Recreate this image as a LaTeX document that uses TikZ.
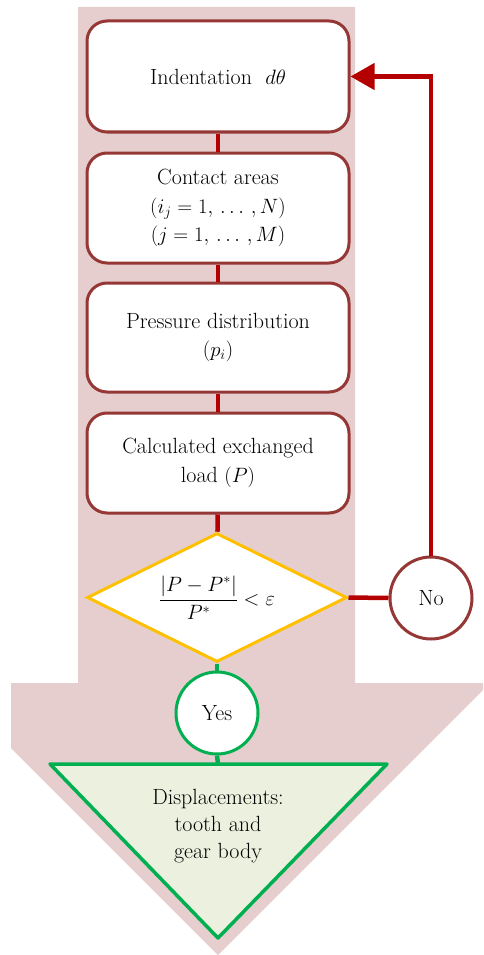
\documentclass[tikz,border=0pt]{standalone}
\usetikzlibrary{shapes.geometric,arrows.meta,calc}
\definecolor{bgpink}{RGB}{230,206,207}
\definecolor{boxred}{RGB}{149,55,53}
\definecolor{conred}{RGB}{180,0,0}
\definecolor{goldy}{RGB}{255,192,0}
\definecolor{greeny}{RGB}{0,176,80}
\definecolor{paleg}{RGB}{235,241,222}
\begin{document}
\begin{tikzpicture}[x=1pt,y=-1pt,
  stepbox/.style={rectangle, rounded corners=20pt, draw=boxred, line width=3pt, fill=white,
     minimum width=262pt, align=center, inner sep=4pt, font=\rmfamily\fontsize{22}{28.5}\selectfont},
  conn/.style={draw=conred, line width=4.5pt},
  gconn/.style={draw=greeny, line width=4.5pt},
  decision/.style={diamond, draw=goldy, line width=3pt, fill=white, aspect=2,
     minimum width=260pt, minimum height=129pt, inner sep=0pt, font=\rmfamily\fontsize{20.5}{24}\selectfont},
  roundnode/.style={circle, line width=3pt, fill=white, minimum size=82pt, inner sep=0pt,
     font=\rmfamily\fontsize{22}{26}\selectfont}
]
\useasboundingbox (0,0) rectangle (483,955);
% big background arrow
\fill[bgpink] (78,7) -- (355,7) -- (355,683) -- (483,683) -- (483,690) -- (218,955)
   -- (11,748) -- (11,683) -- (78,683) -- cycle;

% triangle output
\coordinate (tl) at (50,764);
\coordinate (tr) at (387,764);
\coordinate (tb) at (218,938);
\coordinate (ttop) at (218,764);

% nodes
\node[stepbox, minimum height=111pt] (b1) at (218,76.5) {Indentation~~$d\theta$};
\node[stepbox, minimum height=110pt] (b2) at (218,208) {Contact areas\\$\bigl(i_j=1,\,\ldots\,,N\bigr)$\\$(j=1,\,\ldots\,,M)$};
\node[stepbox, minimum height=109pt] (b3) at (218,337.5) {Pressure distribution\\$(p_i)$};
\node[stepbox, minimum height=100pt] (b4) at (218,463) {Calculated exchanged\\load $(P)$};
\node[decision] (dec) at (217,597.5) {$\displaystyle\frac{|P-P^{*}|}{P^{*}}<\varepsilon$};
\node[roundnode, draw=boxred] (no) at (431,598) {No};
\node[roundnode, draw=greeny] (yes) at (217,713) {Yes};

% connectors
\draw[conn] (b1) -- (b2);
\draw[conn] (b2) -- (b3);
\draw[conn] (b3) -- (b4);
\draw[conn] (b4) -- (dec);
\draw[conn] (dec.east) -- (no.west);
\draw[conn, -{Triangle[length=24pt,width=26pt]}] (no.north) |- (b1.east);
\draw[gconn] (dec.south) -- (yes.north);
\draw[gconn] (yes.south) -- (ttop);

% triangle
\filldraw[draw=greeny, fill=paleg, line width=3.5pt, line join=round] (tl) -- (tr) -- (tb) -- cycle;
\node[align=center, font=\rmfamily\fontsize{22}{27}\selectfont] (disp) at (218,826) {Displacements:\\tooth and\\gear body};
\end{tikzpicture}
\end{document}
